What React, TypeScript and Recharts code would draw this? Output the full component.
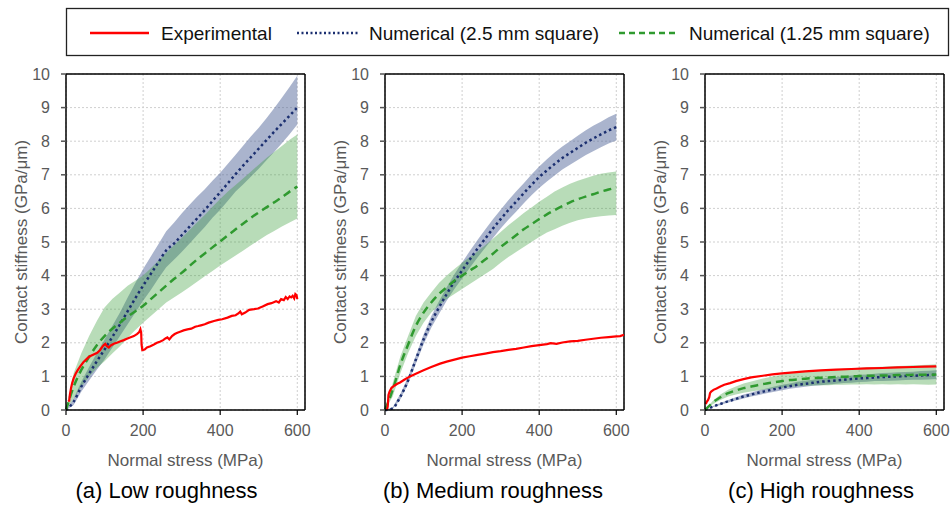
import React from 'react';
import { ComposedChart, Line, Area, XAxis, YAxis, CartesianGrid, ReferenceLine } from 'recharts';

// ---------- data ----------
const stress = [0, 20, 40, 60, 80, 100, 120, 140, 160, 180, 200, 220, 240, 260, 280, 300, 320, 340, 360, 380, 400, 420, 440, 460, 480, 500, 520, 540, 560, 580, 600];
const xTicks = [0, 200, 400, 600];
const yTicks = [0, 1, 2, 3, 4, 5, 6, 7, 8, 9, 10];

// (a) Low roughness
const aBlueMean = [0, 0.25, 0.7, 1.08, 1.45, 1.8, 2.17, 2.55, 2.94, 3.33, 3.7, 4.05, 4.4, 4.75, 4.95, 5.2, 5.45, 5.7, 5.95, 6.22, 6.48, 6.75, 7.02, 7.28, 7.53, 7.78, 8.03, 8.28, 8.52, 8.76, 9.0];
const aBlueLow = [0, 0.15, 0.55, 0.88, 1.2, 1.5, 1.85, 2.2, 2.55, 2.9, 3.25, 3.57, 3.92, 4.25, 4.47, 4.7, 4.95, 5.2, 5.45, 5.72, 5.96, 6.23, 6.5, 6.72, 6.95, 7.18, 7.43, 7.68, 7.94, 8.21, 8.5];
const aBlueHigh = [0, 0.35, 0.85, 1.28, 1.7, 2.1, 2.5, 2.9, 3.35, 3.78, 4.2, 4.57, 4.94, 5.32, 5.57, 5.85, 6.1, 6.35, 6.57, 6.82, 7.06, 7.33, 7.6, 7.87, 8.15, 8.4, 8.68, 8.98, 9.29, 9.61, 9.95];
const aGreenMean = [0, 0.7, 1.2, 1.58, 1.93, 2.2, 2.42, 2.6, 2.78, 2.94, 3.1, 3.3, 3.5, 3.7, 3.9, 4.08, 4.28, 4.48, 4.66, 4.84, 5.02, 5.2, 5.38, 5.55, 5.72, 5.88, 6.03, 6.18, 6.33, 6.5, 6.65];
const aGreenLow = [0, 0.35, 0.7, 1.0, 1.25, 1.45, 1.68, 1.9, 2.15, 2.38, 2.6, 2.8, 3.0, 3.2, 3.35, 3.5, 3.65, 3.82, 3.98, 4.14, 4.3, 4.45, 4.6, 4.75, 4.9, 5.05, 5.2, 5.33, 5.46, 5.58, 5.7];
const aGreenHigh = [0, 1.1, 1.7, 2.2, 2.65, 3.05, 3.3, 3.5, 3.7, 3.85, 4.0, 4.22, 4.45, 4.68, 4.9, 5.12, 5.35, 5.58, 5.8, 6.05, 6.28, 6.5, 6.7, 6.9, 7.1, 7.3, 7.5, 7.68, 7.86, 8.04, 8.2];
const aRedX = [7, 8, 10, 13, 16, 20, 25, 30, 37, 45, 52, 59, 66, 73, 81, 88, 94, 98, 102, 106, 111, 116, 124, 132, 140, 150, 158, 166, 176, 184, 190, 193, 195, 196, 198, 204, 210, 219, 228, 236, 245, 252, 258, 263, 268, 275, 282, 289, 296, 305, 315, 325, 335, 343, 350, 360, 370, 384, 395, 405, 419, 430, 440, 448, 452, 456, 465, 475, 488, 498, 510, 523, 533, 545, 552, 558, 565, 570, 575, 580, 584, 588, 592, 595, 598, 600];
const aRedY = [0.3, 0.25, 0.45, 0.65, 0.8, 0.95, 1.08, 1.18, 1.3, 1.42, 1.5, 1.58, 1.62, 1.66, 1.7, 1.78, 1.88, 1.93, 1.97, 1.9, 1.86, 1.92, 1.97, 2.0, 2.04, 2.08, 2.12, 2.16, 2.2, 2.26, 2.32, 2.4, 2.3, 1.95, 1.78, 1.8, 1.86, 1.9, 1.95, 2.0, 2.04, 2.08, 2.13, 2.16, 2.1, 2.2, 2.26, 2.3, 2.33, 2.37, 2.4, 2.42, 2.48, 2.5, 2.52, 2.55, 2.6, 2.65, 2.68, 2.7, 2.75, 2.8, 2.82, 2.88, 2.93, 2.85, 2.9, 2.98, 3.0, 3.02, 3.08, 3.15, 3.18, 3.24, 3.2, 3.3, 3.27, 3.36, 3.3, 3.38, 3.35, 3.4, 3.32, 3.45, 3.42, 3.3];

// (b) Medium roughness
const bBlueMean = [0, 0.05, 0.4, 0.88, 1.5, 2.1, 2.62, 3.05, 3.45, 3.82, 4.15, 4.48, 4.8, 5.1, 5.4, 5.68, 5.95, 6.2, 6.45, 6.7, 6.93, 7.13, 7.32, 7.5, 7.65, 7.8, 7.95, 8.08, 8.2, 8.32, 8.42];
const bBlueErr = [0, 0.03, 0.08, 0.1, 0.12, 0.15, 0.17, 0.19, 0.2, 0.22, 0.24, 0.25, 0.26, 0.27, 0.28, 0.28, 0.29, 0.3, 0.3, 0.31, 0.32, 0.33, 0.34, 0.34, 0.35, 0.36, 0.37, 0.38, 0.38, 0.39, 0.4];
const bGreenMean = [0, 0.6, 1.35, 1.95, 2.5, 2.9, 3.2, 3.45, 3.65, 3.85, 4.0, 4.15, 4.3, 4.48, 4.65, 4.85, 5.03, 5.2, 5.38, 5.53, 5.68, 5.82, 5.95, 6.07, 6.18, 6.27, 6.35, 6.42, 6.5, 6.56, 6.62];
const bGreenLow = [0, 0.4, 1.1, 1.7, 2.2, 2.6, 2.9, 3.12, 3.3, 3.45, 3.6, 3.75, 3.9, 4.05, 4.2, 4.38, 4.55, 4.7, 4.85, 5.0, 5.15, 5.28, 5.38, 5.48, 5.57, 5.65, 5.7, 5.74, 5.77, 5.79, 5.8];
const bGreenHigh = [0, 0.8, 1.6, 2.2, 2.8, 3.2, 3.5, 3.78, 4.0, 4.2, 4.38, 4.55, 4.72, 4.9, 5.1, 5.3, 5.5, 5.68, 5.86, 6.03, 6.2, 6.35, 6.5, 6.62, 6.73, 6.82, 6.9, 6.97, 7.03, 7.07, 7.1];
const bRedX = [5, 7, 9, 12, 17, 25, 32, 39, 50, 65, 80, 100, 120, 143, 160, 180, 200, 220, 240, 260, 280, 300, 320, 340, 360, 380, 400, 420, 430, 445, 460, 480, 500, 520, 540, 560, 580, 600, 610, 620];
const bRedY = [0, 0.1, 0.45, 0.55, 0.66, 0.73, 0.78, 0.82, 0.9, 1.0, 1.08, 1.18, 1.28, 1.38, 1.44, 1.5, 1.56, 1.6, 1.64, 1.68, 1.72, 1.75, 1.79, 1.82, 1.86, 1.9, 1.93, 1.96, 1.99, 1.97, 2.01, 2.04, 2.06, 2.09, 2.12, 2.15, 2.17, 2.19, 2.2, 2.24];

// (c) High roughness
const cBlueMean = [0, 0.1, 0.18, 0.26, 0.33, 0.4, 0.46, 0.52, 0.57, 0.62, 0.67, 0.71, 0.75, 0.78, 0.81, 0.84, 0.86, 0.88, 0.9, 0.92, 0.94, 0.95, 0.97, 0.98, 0.99, 1.0, 1.01, 1.02, 1.03, 1.04, 1.05];
const cBlueErr = [0, 0.02, 0.03, 0.04, 0.05, 0.06, 0.06, 0.07, 0.07, 0.08, 0.08, 0.08, 0.09, 0.09, 0.09, 0.1, 0.1, 0.1, 0.1, 0.11, 0.11, 0.11, 0.11, 0.12, 0.12, 0.12, 0.12, 0.12, 0.13, 0.13, 0.13];
const cGreenMean = [0, 0.22, 0.38, 0.5, 0.58, 0.65, 0.7, 0.75, 0.79, 0.83, 0.86, 0.89, 0.91, 0.93, 0.95, 0.96, 0.97, 0.98, 0.99, 1.0, 1.01, 1.02, 1.02, 1.03, 1.03, 1.04, 1.04, 1.05, 1.05, 1.05, 1.06];
const cGreenErr = [0, 0.05, 0.08, 0.1, 0.12, 0.14, 0.15, 0.16, 0.17, 0.18, 0.19, 0.2, 0.2, 0.21, 0.22, 0.22, 0.23, 0.23, 0.24, 0.24, 0.25, 0.25, 0.26, 0.26, 0.27, 0.27, 0.28, 0.28, 0.29, 0.3, 0.3];
const cRedX = [2, 5, 8, 11, 13, 16, 22, 30, 40, 50, 65, 80, 100, 120, 150, 175, 200, 230, 260, 300, 340, 380, 420, 460, 500, 540, 570, 600];
const cRedY = [0.18, 0.25, 0.3, 0.38, 0.5, 0.55, 0.6, 0.64, 0.7, 0.75, 0.8, 0.86, 0.92, 0.97, 1.02, 1.06, 1.09, 1.12, 1.15, 1.18, 1.2, 1.22, 1.24, 1.25, 1.27, 1.28, 1.29, 1.3];

const seriesNames = ['Experimental', 'Numerical (2.5 mm square)', 'Numerical (1.25 mm square)'];
const panelTitles = ['(a) Low roughness', '(b) Medium roughness', '(c) High roughness'];

// ---------- table builders ----------
type Row = { x: number; mean: number; band: [number, number] };
const bandSeries = (mean: number[], low: number[], high: number[]): Row[] =>
  stress.map((x, i) => ({ x, mean: mean[i], band: [Math.max(0, low[i]), high[i]] }));
const errSeries = (mean: number[], err: number[]): Row[] =>
  bandSeries(mean, mean.map((m, i) => m - err[i]), mean.map((m, i) => m + err[i]));
const expSeries = (xs: number[], ys: number[]) => xs.map((x, i) => ({ x, y: ys[i] }));

const FONT = '"Liberation Sans", Arial, sans-serif';
const RED = '#ff0000';
const NAVY = '#1b2f70';
const GREEN = '#2f9a2f';
const BLUE_FILL = '#4d6296';
const GREEN_FILL = '#3a9f3a';

type PanelProps = {
  left: number;
  blue: Row[];
  green: Row[];
  exp: { x: number; y: number }[];
};

function Panel({ left, blue, green, exp }: PanelProps) {
  return (
    <div style={{ position: 'absolute', left, top: 60, width: 313, height: 450 }}>
      <ComposedChart width={313} height={450} margin={{ top: 14, right: 8, bottom: 40, left: 0 }}>
        <CartesianGrid stroke="#cfcfcf" strokeDasharray="2 2" />
        <XAxis
          dataKey="x"
          type="number"
          domain={[0, 620]}
          ticks={xTicks}
          height={60}
          tickSize={5}
          tickMargin={10}
          tick={{ fill: '#595959', fontSize: 16, fontFamily: FONT }}
          axisLine={{ stroke: '#000', strokeWidth: 1.5 }}
          tickLine={{ stroke: '#000', strokeWidth: 1.2 }}
          allowDuplicatedCategory={false}
          label={{ value: 'Normal stress (MPa)', position: 'center', dy: 20, fill: '#595959', fontSize: 17, fontFamily: FONT }}
        />
        <YAxis
          type="number"
          domain={[0, 10]}
          ticks={yTicks}
          width={66}
          tickSize={5}
          tickMargin={11}
          tick={{ fill: '#595959', fontSize: 16, fontFamily: FONT }}
          axisLine={{ stroke: '#000', strokeWidth: 1.5 }}
          tickLine={{ stroke: '#555', strokeWidth: 1.5 }}
          label={{ value: 'Contact stiffness (GPa/μm)', angle: -90, position: 'center', dx: -12.5, fill: '#595959', fontSize: 17, fontFamily: FONT }}
        />
        <ReferenceLine y={10} stroke="#000" strokeWidth={1.5} />
        <ReferenceLine x={620} stroke="#000" strokeWidth={1.5} />
        <Area data={blue} dataKey="band" type="linear" fill={BLUE_FILL} fillOpacity={0.48} stroke="none" isAnimationActive={false} />
        <Area data={green} dataKey="band" type="linear" fill={GREEN_FILL} fillOpacity={0.36} stroke="none" isAnimationActive={false} />
        <Line data={blue} dataKey="mean" type="monotone" stroke={NAVY} strokeWidth={2.5} strokeDasharray="2.5 3" dot={false} isAnimationActive={false} />
        <Line data={green} dataKey="mean" type="monotone" stroke={GREEN} strokeWidth={2.5} strokeDasharray="8 5" dot={false} isAnimationActive={false} />
        <Line data={exp} dataKey="y" type="linear" stroke={RED} strokeWidth={2.2} dot={false} isAnimationActive={false} />
      </ComposedChart>
    </div>
  );
}

function Legend() {
  return (
    <svg width={952} height={60} style={{ position: 'absolute', left: 0, top: 0 }}>
      <rect x={66.5} y={8.5} width={882} height={47} fill="#fff" stroke="#222" strokeWidth={1.3} />
      <line x1={90} x2={149} y1={33} y2={33} stroke={RED} strokeWidth={2.5} />
      <text x={161} y={40} fontSize={19} fontFamily={FONT} fill="#111">{seriesNames[0]}</text>
      <line x1={297} x2={358} y1={33} y2={33} stroke={NAVY} strokeWidth={2.5} strokeDasharray="2 2.5" />
      <text x={369} y={40} fontSize={19} fontFamily={FONT} fill="#111">{seriesNames[1]}</text>
      <line x1={619} x2={677} y1={33} y2={33} stroke={GREEN} strokeWidth={2.5} strokeDasharray="6 4" />
      <text x={689} y={40} fontSize={19} fontFamily={FONT} fill="#111">{seriesNames[2]}</text>
    </svg>
  );
}

function Title({ cx, text }: { cx: number; text: string }) {
  return (
    <div
      style={{
        position: 'absolute',
        left: cx - 160,
        width: 320,
        top: 478,
        textAlign: 'center',
        fontSize: 22,
        lineHeight: '26px',
        fontFamily: FONT,
        color: '#000',
      }}
    >
      {text}
    </div>
  );
}

export default function App() {
  return (
    <div style={{ position: 'absolute', left: 0, top: 0, width: 952, height: 510, background: '#fff', fontFamily: FONT, overflow: 'hidden' }}>
      <Legend />
      <Panel left={0} blue={bandSeries(aBlueMean, aBlueLow, aBlueHigh)} green={bandSeries(aGreenMean, aGreenLow, aGreenHigh)} exp={expSeries(aRedX, aRedY)} />
      <Panel left={319} blue={errSeries(bBlueMean, bBlueErr)} green={bandSeries(bGreenMean, bGreenLow, bGreenHigh)} exp={expSeries(bRedX, bRedY)} />
      <Panel left={639} blue={errSeries(cBlueMean, cBlueErr)} green={errSeries(cGreenMean, cGreenErr)} exp={expSeries(cRedX, cRedY)} />
      <Title cx={166.5} text={panelTitles[0]} />
      <Title cx={493} text={panelTitles[1]} />
      <Title cx={821} text={panelTitles[2]} />
    </div>
  );
}
